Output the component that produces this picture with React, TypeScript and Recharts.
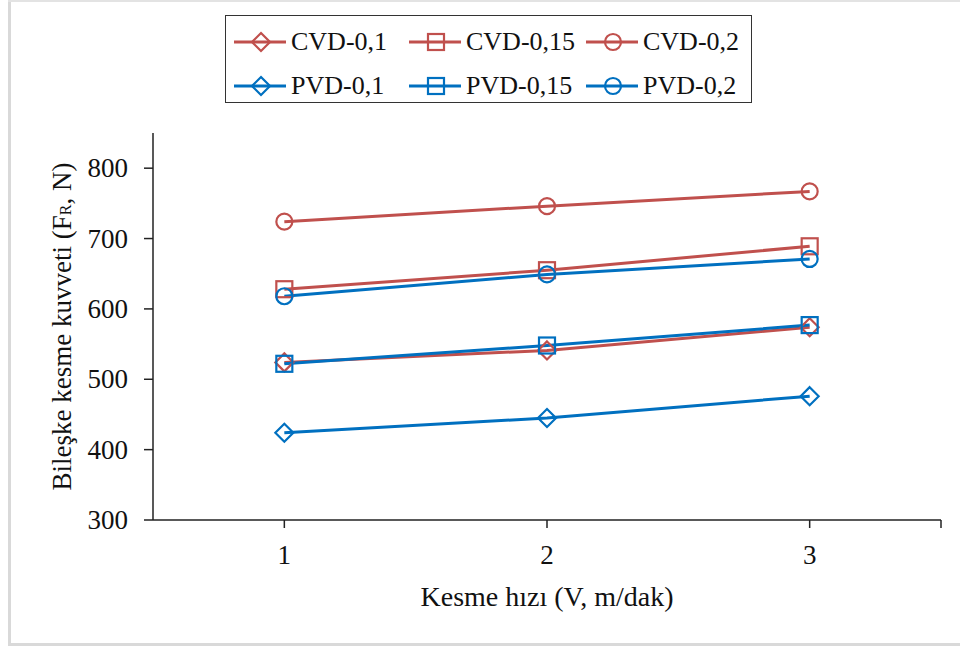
import { Label, Line, LineChart, XAxis, YAxis } from "recharts";

// cutting speed levels and resultant force per tool/feed combination
const speeds = [1, 2, 3];
const cvd01 = [524, 541, 574];
const cvd015 = [628, 655, 689];
const cvd02 = [724, 746, 767];
const pvd01 = [424, 445, 476];
const pvd015 = [522, 548, 577];
const pvd02 = [618, 649, 671];

const yTicks = [300, 400, 500, 600, 700, 800];
const xTicks = [1, 2, 3, 3.5];

const RED = "#C0504D";
const BLUE = "#0070C0";
const FONT = "Liberation Serif";
const INK = "#111";

type Shape = "diamond" | "square" | "circle";

const series: { key: string; name: string; values: number[]; color: string; shape: Shape }[] = [
  { key: "cvd01", name: "CVD-0,1", values: cvd01, color: RED, shape: "diamond" },
  { key: "cvd015", name: "CVD-0,15", values: cvd015, color: RED, shape: "square" },
  { key: "cvd02", name: "CVD-0,2", values: cvd02, color: RED, shape: "circle" },
  { key: "pvd01", name: "PVD-0,1", values: pvd01, color: BLUE, shape: "diamond" },
  { key: "pvd015", name: "PVD-0,15", values: pvd015, color: BLUE, shape: "square" },
  { key: "pvd02", name: "PVD-0,2", values: pvd02, color: BLUE, shape: "circle" },
];

const data = speeds.map((v, i) => {
  const row: Record<string, number> = { v };
  series.forEach((s) => (row[s.key] = s.values[i]));
  return row;
});

const Marker = ({ cx, cy, shape, color }: { cx: number; cy: number; shape: Shape; color: string }) => {
  if (shape === "circle")
    return <circle cx={cx} cy={cy} r={8} fill="none" stroke={color} strokeWidth={2.2} />;
  if (shape === "square")
    return <rect x={cx - 8} y={cy - 8} width={16} height={16} fill="none" stroke={color} strokeWidth={2.2} />;
  return (
    <path
      d={`M${cx},${cy - 9}L${cx + 9},${cy}L${cx},${cy + 9}L${cx - 9},${cy}Z`}
      fill="none"
      stroke={color}
      strokeWidth={2.2}
    />
  );
};

const makeDot = (shape: Shape, color: string) => (props: any) =>
  <Marker key={`${shape}-${color}-${props.index}`} cx={props.cx} cy={props.cy} shape={shape} color={color} />;

const XTick = ({ x, y, payload }: any) =>
  payload.value === 3.5 ? null : (
    <text x={x} y={y + 32} textAnchor="middle" fontFamily={FONT} fontSize={27} fill={INK}>
      {payload.value}
    </text>
  );

const YTick = ({ x, y, payload }: any) => (
  <text x={x} y={y + 9} textAnchor="end" fontFamily={FONT} fontSize={27} fill={INK}>
    {payload.value}
  </text>
);

const LegendBox = () => (
  <div
    style={{
      position: "absolute",
      left: 225,
      top: 15,
      width: 527,
      height: 88,
      border: "1.5px solid #333",
      boxSizing: "border-box",
      fontFamily: FONT,
      fontSize: 26,
      color: INK,
    }}
  >
    {series.map((s, i) => {
      const col = i % 3;
      const row = Math.floor(i / 3);
      const left = [7, 182, 359][col];
      return (
        <div
          key={s.key}
          style={{
            position: "absolute",
            left,
            top: 11 + row * 44,
            height: 30,
            display: "flex",
            alignItems: "center",
            whiteSpace: "nowrap",
          }}
        >
          <svg width={56} height={30} style={{ marginRight: 2 }}>
            <line x1={1} y1={15} x2={53} y2={15} stroke={s.color} strokeWidth={3} />
            <Marker cx={28} cy={15} shape={s.shape} color={s.color} />
          </svg>
          <span>{s.name}</span>
        </div>
      );
    })}
  </div>
);

const YTitle = ({ viewBox }: any) => {
  const cx = 62;
  const cy = viewBox.y + viewBox.height / 2;
  return (
    <text
      x={cx}
      y={cy}
      transform={`rotate(-90, ${cx}, ${cy})`}
      textAnchor="middle"
      dominantBaseline="central"
      fontFamily={FONT}
      fontSize={27}
      fill={INK}
    >
      <tspan>Bileşke kesme kuvveti (F</tspan>
      <tspan fontSize={16} dy={3}>R</tspan>
      <tspan dy={-3}>, N)</tspan>
    </text>
  );
};

const XTitle = ({ viewBox }: any) => (
  <text
    x={viewBox.x + viewBox.width / 2}
    y={viewBox.y + 86}
    textAnchor="middle"
    fontFamily={FONT}
    fontSize={28}
    fill={INK}
  >
    Kesme hızı (V, m/dak)
  </text>
);

export default function App() {
  return (
    <div style={{ position: "absolute", left: 0, top: 0, width: 960, height: 647, background: "#fff" }}>
      <div style={{ position: "absolute", left: 8, top: 0, width: 3, height: 646, background: "#d9d9d9" }} />
      <div style={{ position: "absolute", left: 8, top: 0, width: 952, height: 2, background: "#e3e3e3" }} />
      <div style={{ position: "absolute", left: 8, top: 643, width: 952, height: 3, background: "#d9d9d9" }} />
      <LineChart
        width={960}
        height={647}
        data={data}
        margin={{ top: 133, right: 19, left: 53, bottom: 47 }}
        style={{ position: "absolute", left: 0, top: 0 }}
      >
        <XAxis
          type="number"
          dataKey="v"
          domain={[0.5, 3.5]}
          ticks={xTicks}
          height={80}
          tickSize={8}
          tickMargin={4}
          axisLine={{ stroke: "#222", strokeWidth: 1.5 }}
          tickLine={{ stroke: "#222", strokeWidth: 1.5 }}
          tick={<XTick />}
        >
          <Label content={<XTitle />} />
        </XAxis>
        <XAxis
          xAxisId="top"
          orientation="top"
          type="number"
          dataKey="v"
          domain={[0.5, 3.5]}
          height={0}
          tick={false}
          tickLine={false}
          axisLine={{ stroke: "#555", strokeWidth: 1.5 }}
        />
        <YAxis
          domain={[300, 850]}
          ticks={yTicks}
          width={100}
          tickSize={9}
          tickMargin={16}
          axisLine={{ stroke: "#222", strokeWidth: 1.5 }}
          tickLine={{ stroke: "#222", strokeWidth: 1.5 }}
          tick={<YTick />}
        >
          <Label content={<YTitle />} />
        </YAxis>
        <YAxis
          yAxisId="right"
          orientation="right"
          domain={[300, 850]}
          width={0}
          tick={false}
          tickLine={false}
          axisLine={{ stroke: "#444", strokeWidth: 2 }}
        />
        {series.map((s) => (
          <Line
            key={s.key}
            dataKey={s.key}
            name={s.name}
            stroke={s.color}
            strokeWidth={3}
            dot={makeDot(s.shape, s.color)}
            activeDot={false}
            isAnimationActive={false}
          />
        ))}
      </LineChart>
      <LegendBox />
    </div>
  );
}
